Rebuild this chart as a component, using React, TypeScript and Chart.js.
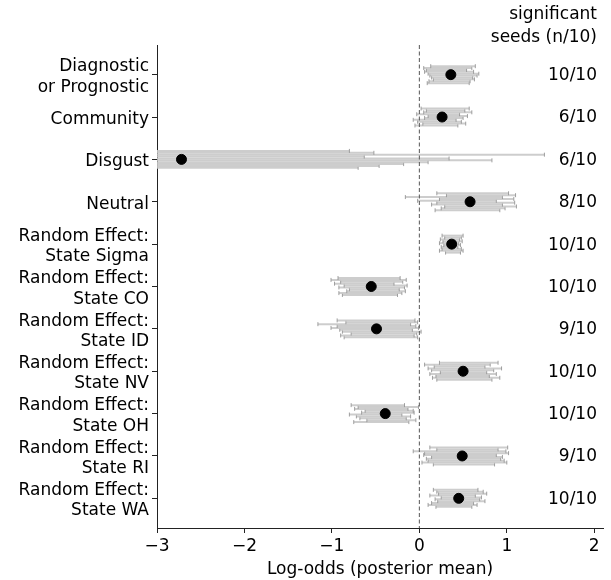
import { useEffect, useRef } from 'react';
import { Chart, registerables } from 'chart.js';
Chart.register(...registerables);

const categories = [
  'Diagnostic\nor Prognostic',
  'Community',
  'Disgust',
  'Neutral',
  'Random Effect:\nState Sigma',
  'Random Effect:\nState CO',
  'Random Effect:\nState ID',
  'Random Effect:\nState NV',
  'Random Effect:\nState OH',
  'Random Effect:\nState RI',
  'Random Effect:\nState WA',
];
const meanValues = [0.36, 0.26, -2.72, 0.58, 0.37, -0.55, -0.49, 0.5, -0.39, 0.49, 0.45];
const significantSeeds = ['10/10', '6/10', '6/10', '8/10', '10/10', '10/10', '9/10', '10/10', '10/10', '9/10', '10/10'];
const headerLines = ['significant', 'seeds (n/10)'];
const xTicks = [-3, -2, -1, 0, 1, 2];

const seedLow = [
  [0.13, 0.05, 0.08, 0.06, 0.10, 0.12, 0.14, 0.16, 0.11, 0.09],
  [0.02, 0.08, 0.05, -0.03, 0.10, 0.06, -0.07, -0.02, 0.04, -0.05],
  [-6.1, -5.8, -6.4, -5.5, -6.0, -5.9, -6.3, -5.7, -6.2, -5.6],
  [0.20, 0.31, -0.16, 0.23, -0.02, 0.20, 0.14, 0.29, 0.25, 0.18],
  [0.26, 0.29, 0.24, 0.27, 0.23, 0.28, 0.25, 0.26, 0.23, 0.30],
  [-0.93, -1.01, -0.90, -0.97, -0.86, -0.92, -0.80, -0.83, -0.92, -0.88],
  [-0.94, -0.84, -1.16, -0.94, -1.01, -0.91, -0.88, -0.78, -0.90, -0.86],
  [0.23, 0.06, 0.17, 0.10, 0.14, 0.24, 0.12, 0.19, 0.15, 0.20],
  [-0.78, -0.70, -0.74, -0.62, -0.66, -0.80, -0.72, -0.68, -0.60, -0.75],
  [0.12, 0.20, -0.07, 0.06, 0.05, 0.14, 0.08, 0.10, 0.03, 0.16],
  [0.16, 0.20, 0.22, 0.12, 0.25, 0.18, 0.21, 0.14, 0.10, 0.19],
];
const seedHigh = [
  [0.64, 0.60, 0.54, 0.62, 0.68, 0.66, 0.61, 0.63, 0.58, 0.57],
  [0.57, 0.52, 0.60, 0.46, 0.55, 0.50, 0.42, 0.48, 0.53, 0.44],
  [-0.80, -0.52, 1.43, -0.63, 0.34, 0.83, 0.10, -0.18, -0.46, -0.70],
  [1.02, 1.10, 0.95, 1.08, 0.88, 1.09, 0.95, 1.11, 0.98, 0.92],
  [0.50, 0.48, 0.46, 0.49, 0.45, 0.47, 0.44, 0.48, 0.50, 0.47],
  [-0.22, -0.15, -0.19, -0.29, -0.14, -0.17, -0.23, -0.16, -0.20, -0.25],
  [-0.05, -0.02, -0.10, -0.04, -0.01, -0.08, 0.02, -0.03, -0.06, -0.02],
  [0.90, 0.81, 0.75, 0.94, 0.85, 0.77, 0.88, 0.80, 0.92, 0.83],
  [-0.17, -0.01, -0.13, -0.07, -0.06, -0.20, -0.10, -0.15, -0.04, -0.12],
  [1.01, 0.90, 0.99, 1.02, 0.88, 0.95, 0.93, 0.97, 1.00, 0.86],
  [0.67, 0.73, 0.77, 0.64, 0.71, 0.69, 0.75, 0.62, 0.66, 0.60],
];

const FS = 17;
const FONT = '"DejaVu Sans", sans-serif';
const SPINE = '#222';

const sidePlugin = {
  id: 'sideText',
  afterDraw(chart: any) {
    const { ctx, chartArea } = chart;
    const y = chart.scales.y;
    const xr = chartArea.right - 6;
    ctx.save();
    ctx.font = `${FS}px ${FONT}`;
    ctx.fillStyle = '#000';
    ctx.textAlign = 'right';
    ctx.textBaseline = 'middle';
    significantSeeds.forEach((t, i) => ctx.fillText(t, xr, y.getPixelForValue(i) + 1));
    headerLines.forEach((t, k) => ctx.fillText(t, xr, 15 + k * 23));
    ctx.restore();
  },
};

export default function App() {
  const ref = useRef<HTMLCanvasElement>(null);
  useEffect(() => {
    document.body.style.margin = '0';
    const nSeeds = seedLow[0].length;
    const seedSets: any[] = [];
    categories.forEach((_, i) => {
      for (let j = 0; j < nSeeds; j++) {
        const off = -0.2 + (j * 0.4) / (nSeeds - 1);
        seedSets.push({
          data: [
            { x: seedLow[i][j], y: i + off },
            { x: seedHigh[i][j], y: i + off },
          ],
          showLine: true,
          borderColor: 'rgba(200,200,200,0.9)',
          borderWidth: 2,
          pointStyle: 'line',
          rotation: 90,
          pointRadius: 2,
          pointBorderColor: 'rgba(150,150,150,0.9)',
          pointBorderWidth: 1,
          pointHoverRadius: 0,
        });
      }
    });
    const chart = new Chart(ref.current!, {
      type: 'scatter',
      data: {
        datasets: [
          {
            data: meanValues.map((m, i) => ({ x: m, y: i })),
            pointRadius: 5,
            pointBackgroundColor: '#000',
            pointBorderColor: '#000',
            showLine: false,
          },
          {
            data: [
              { x: 0, y: -0.7 },
              { x: 0, y: 10.7 },
            ],
            showLine: true,
            borderColor: '#555',
            borderWidth: 1,
            borderDash: [4, 2.5],
            pointRadius: 0,
          },
          ...seedSets,
        ],
      },
      options: {
        animation: false,
        responsive: false,
        layout: { padding: { left: 0, right: 8, top: 45, bottom: 0 } },
        plugins: { legend: { display: false }, tooltip: { enabled: false } },
        scales: {
          x: {
            type: 'linear',
            min: -3,
            max: 2.1,
            afterBuildTicks: (s: any) => {
              s.ticks = xTicks.map((v) => ({ value: v }));
            },
            afterFit: (s: any) => {
              s.height = 52;
            },
            ticks: {
              autoSkip: false,
              maxRotation: 0,
              padding: 3,
              color: '#000',
              font: { size: FS, family: FONT },
              callback: (v: any) => (v < 0 ? '\u2212' + Math.abs(v) : String(v)),
            },
            grid: { drawOnChartArea: false, drawTicks: true, tickLength: 5, color: SPINE },
            border: { display: true, color: SPINE, width: 1 },
            title: {
              display: true,
              text: 'Log-odds (posterior mean)',
              color: '#000',
              font: { size: FS, family: FONT },
              padding: { top: 0, bottom: 0 },
            },
          },
          y: {
            type: 'linear',
            min: -0.7,
            max: 10.7,
            reverse: true,
            afterBuildTicks: (s: any) => {
              s.ticks = categories.map((_, i) => ({ value: i }));
            },
            afterFit: (s: any) => {
              s.width = 157;
            },
            ticks: {
              autoSkip: false,
              padding: 3,
              labelOffset: 2.5,
              color: '#000',
              font: { size: FS, family: FONT },
              callback: (v: any) => categories[Math.round(v)].split('\n'),
            },
            grid: { drawOnChartArea: false, drawTicks: true, tickLength: 5, color: SPINE },
            border: { display: true, color: SPINE, width: 1 },
          },
        },
      },
      plugins: [sidePlugin],
    });
    return () => chart.destroy();
  }, []);
  return (
    <div style={{ width: 611, height: 580 }}>
      <canvas ref={ref} width={611} height={580} style={{ display: 'block' }} />
    </div>
  );
}
